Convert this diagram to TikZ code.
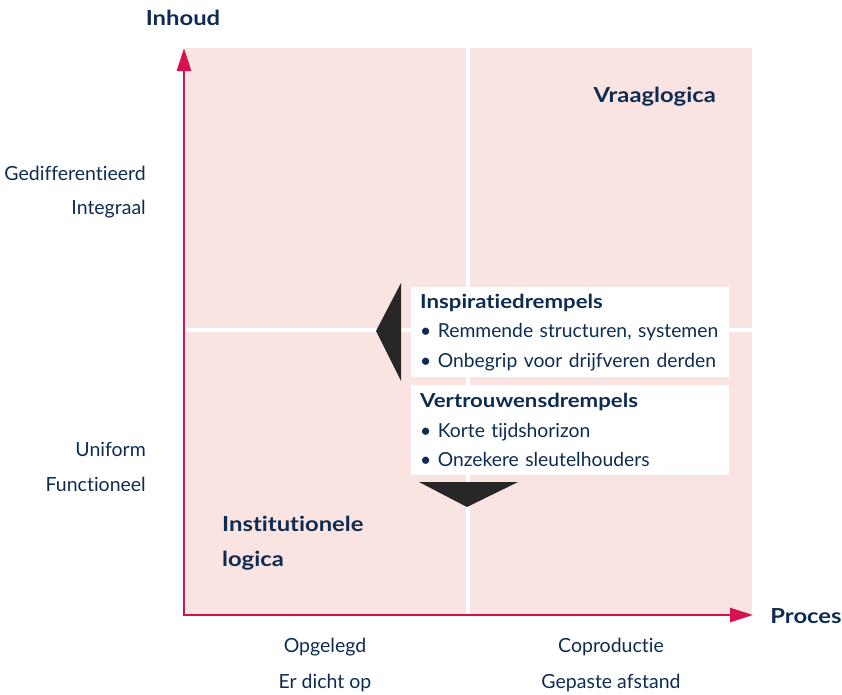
\documentclass[tikz,border=0pt]{standalone}
\usepackage{fontspec}
\setmainfont{Lato}[Ligatures=NoCommon, BoldFeatures={FakeStretch=1.15}]
\usepackage{tikz}
\usetikzlibrary{arrows.meta, positioning}
\definecolor{navy}{HTML}{0E2C52}
\definecolor{axisred}{HTML}{D6124E}
\definecolor{quadpink}{HTML}{FAE4E2}

\begin{document}
\begin{tikzpicture}[x=1pt, y=-1pt,
    quad/.style={fill=quadpink, draw=none},
    axis/.style={-{Triangle[length=23pt, width=14pt]}, line width=2.6pt, axisred},
    title/.style={font=\fontsize{20.7}{24}\selectfont\bfseries, text=navy, inner sep=0pt},
    label/.style={font=\fontsize{19.5}{22}\selectfont, text=navy, inner sep=0pt},
    drempel/.style={fill=white, anchor=north west, text=navy, align=left, text width=300pt,
        inner xsep=9pt, inner ysep=0pt, minimum height=90pt, font=\fontsize{19.3}{29.5}\selectfont},
    wedge/.style={fill=black!85}
]
\useasboundingbox (0,0) rectangle (842,694);
% quadrants
\fill[quad] (186,48) rectangle (466,328);
\fill[quad] (470,48) rectangle (752,328);
\fill[quad] (186,332) rectangle (466,614);
\fill[quad] (470,332) rectangle (752,614);
% axes
\coordinate (origin) at (184,615);
\coordinate (ytip) at (184,48);
\coordinate (xtip) at (753,615);
\draw[axis] (origin) -- (ytip);
\draw[axis] ([xshift=-1.3pt]origin) -- (xtip);
\node[title] (inhoud) at (183,18) {Inhoud};
\node[title] (proces) at (806,616) {Proces};
% axis labels
\node[label, anchor=east] (gedif) at (146,173) {Gedifferentieerd};
\node[label, anchor=east] (integraal) at (146,209) {Integraal};
\node[label, anchor=east] (uniform) at (146,449) {Uniform};
\node[label, anchor=east] (functioneel) at (146,484) {Functioneel};
\node[label] (opgelegd) at (325,647) {Opgelegd};
\node[label] (dichtop) at (325,683) {Er dicht op};
\node[label] (coproductie) at (611,647) {Coproductie};
\node[label] (afstand) at (611,683) {Gepaste afstand};
% quadrant titles
\node[title, anchor=east] (vraag) at (716,97) {Vraaglogica};
\node[title, anchor=north west, align=left, font=\fontsize{20.7}{35}\selectfont\bfseries] (instit) at (222,516) {Institutionele\\logica};
% drempels
\node[drempel] (inspiratie) at (411,287) {\textbf{Inspiratiedrempels}\\• Remmende structuren, systemen\\• Onbegrip voor drijfveren derden};
\node[drempel] (vertrouwen) at (411,385) {\textbf{Vertrouwensdrempels}\\• Korte tijdshorizon\\• Onzekere sleutelhouders};
\fill[wedge] (376,331) -- (401,283) -- (401,381) -- cycle;
\fill[wedge] (419,482) -- (518,482) -- (467,507) -- cycle;
\end{tikzpicture}
\end{document}
